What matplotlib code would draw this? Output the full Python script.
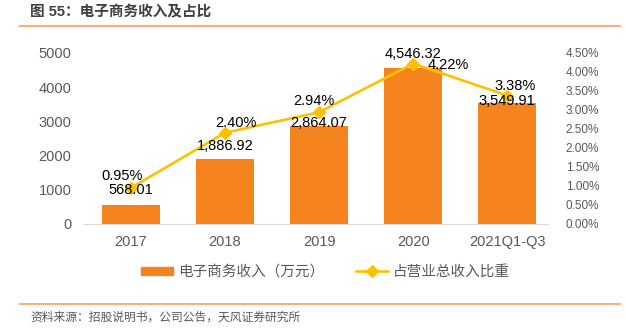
import matplotlib
matplotlib.use("Agg")
import matplotlib.pyplot as plt
from matplotlib.lines import Line2D
from matplotlib.patches import Patch

plt.rcParams['font.family'] = ['Liberation Sans', 'Noto Sans CJK SC', 'DejaVu Sans']

years = ['2017', '2018', '2019', '2020', '2021Q1-Q3']
revenue = [568.01, 1886.92, 2864.07, 4546.32, 3549.91]      # 万元
share = [0.95, 2.40, 2.94, 4.22, 3.38]                       # %

# label offsets in points (dx, dy) from bar top / line point
rev_off = [(0, 10.8), (0, 9.7), (0, 2.2), (0, 10.4), (0, 1.1)]
pct_off = [(-6.5, 8.6), (8, 7.2), (-3.6, 7.9), (25, -0.7), (5.8, 7.2)]

bar_c = '#F5841F'
line_c = '#FFC000'
grey = '#595959'

fig = plt.figure(figsize=(6.26, 3.31), dpi=100)
ax = fig.add_axes([0.134, 0.3233, 0.741, 0.5167])
ax2 = ax.twinx()

x = list(range(len(years)))
ax.bar(x, revenue, width=0.62, color=bar_c, zorder=2)
ax2.plot(x, share, color=line_c, lw=1.9, marker='D', ms=6, zorder=3)

ax.set_xlim(-0.5, 4.43)
ax.set_ylim(0, 5000)
ax2.set_ylim(0, 4.5)
ax.set_yticks(range(0, 5001, 1000))
ax2.set_yticks([i * 0.5 for i in range(10)])
ax2.set_yticklabels(['%.2f%%' % (i * 0.5) for i in range(10)])
ax.set_xticks(x)
ax.set_xticklabels(years)

ax.tick_params(axis='y', length=0, labelsize=10.5, labelcolor=grey, pad=9)
ax.tick_params(axis='x', length=0, labelsize=10.5, labelcolor=grey, pad=8)
ax2.tick_params(axis='y', length=0, labelsize=8.5, labelcolor=grey, pad=13)

for a in (ax, ax2):
    for s in ['top', 'right', 'left']:
        a.spines[s].set_visible(False)
    a.spines['bottom'].set_color('#D9D9D9')
ax2.spines['bottom'].set_visible(False)

ax.set_zorder(1)
ax2.set_zorder(2)
ax.patch.set_visible(False)

# all value labels live on the top axes so the line never covers them
for i, v in enumerate(revenue):
    ax2.annotate('{:,.2f}'.format(v), (x[i], v), xycoords=ax.transData,
                 xytext=rev_off[i], textcoords='offset points',
                 ha='center', va='center', fontsize=10.5, color='black',
                 zorder=5, annotation_clip=False)
for i, v in enumerate(share):
    ax2.annotate('%.2f%%' % v, (x[i], v), xytext=pct_off[i],
                 textcoords='offset points', ha='center', va='center',
                 fontsize=10.5, color='black', zorder=5, annotation_clip=False)

handles = [Patch(color=bar_c),
           Line2D([], [], color=line_c, lw=1.9, marker='D', ms=6)]
labels = ['电子商务收入（万元）', '占营业总收入比重']
leg = fig.legend(handles, labels, loc='center', bbox_to_anchor=(0.52, 0.178),
                 ncol=2, frameon=False, fontsize=10.5, handlelength=2.2,
                 handleheight=0.5, handletextpad=0.3, columnspacing=2.2)
for t in leg.get_texts():
    t.set_color(grey)

# header, source and rules
fig.text(0.048, 0.962, '图 55：电子商务收入及占比', fontsize=10.5, fontweight='bold',
         color='#404040', va='center', ha='left')
fig.text(0.048, 0.04, '资料来源：招股说明书，公司公告，天风证券研究所', fontsize=8.5,
         color=grey, va='center', ha='left')
fig.add_artist(Line2D([0.032, 0.99], [0.921, 0.921], color='#F4B183', lw=1.5))
fig.add_artist(Line2D([0.032, 0.99], [0.082, 0.082], color='#F6A55E', lw=1.2))

fig.savefig('out.png', dpi=100)
